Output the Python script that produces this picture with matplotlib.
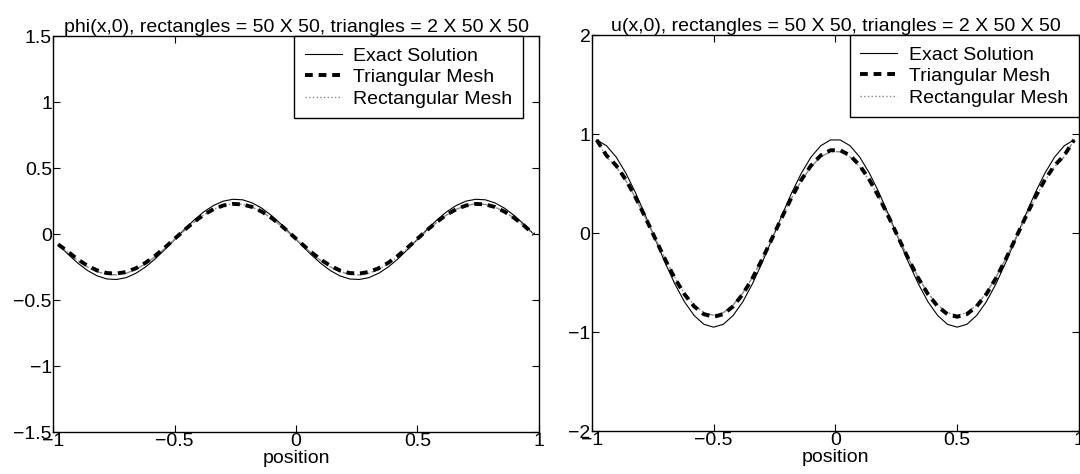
import matplotlib
matplotlib.use('Agg')
import matplotlib.pyplot as plt

plt.rcParams['font.family'] = ['Liberation Sans', 'DejaVu Sans']
plt.rcParams['font.size'] = 14

# x positions (cell centres, 50 cells)
x = [-0.98, -0.94, -0.90, -0.86, -0.82, -0.78, -0.74, -0.70, -0.66, -0.62,
     -0.58, -0.54, -0.50, -0.46, -0.42, -0.38, -0.34, -0.30, -0.26, -0.22,
     -0.18, -0.14, -0.10, -0.06, -0.02, 0.02, 0.06, 0.10, 0.14, 0.18,
     0.22, 0.26, 0.30, 0.34, 0.38, 0.42, 0.46, 0.50, 0.54, 0.58,
     0.62, 0.66, 0.70, 0.74, 0.78, 0.82, 0.86, 0.90, 0.94, 0.98]

# phi(x,0)
phi_exact = [-0.078, -0.152, -0.219, -0.275, -0.316, -0.340, -0.344, -0.330, -0.297, -0.249,
             -0.187, -0.116, -0.040, 0.036, 0.107, 0.169, 0.217, 0.250, 0.264, 0.260,
             0.236, 0.195, 0.139, 0.072, -0.002, -0.078, -0.152, -0.219, -0.275, -0.316,
             -0.340, -0.344, -0.330, -0.297, -0.249, -0.187, -0.116, -0.040, 0.036, 0.107,
             0.169, 0.217, 0.250, 0.264, 0.260, 0.236, 0.195, 0.139, 0.072, -0.002]
phi_tri = [-0.078, -0.133, -0.191, -0.239, -0.275, -0.295, -0.299, -0.287, -0.259, -0.217,
           -0.163, -0.101, -0.035, 0.031, 0.093, 0.147, 0.189, 0.217, 0.229, 0.225,
           0.205, 0.169, 0.121, 0.063, -0.002, -0.068, -0.133, -0.191, -0.239, -0.275,
           -0.295, -0.299, -0.287, -0.259, -0.217, -0.163, -0.101, -0.035, 0.031, 0.093,
           0.147, 0.189, 0.217, 0.229, 0.225, 0.205, 0.169, 0.121, 0.063, -0.002]
phi_rect = [-0.078, -0.139, -0.199, -0.248, -0.284, -0.305, -0.309, -0.297, -0.268, -0.225,
            -0.170, -0.107, -0.040, 0.027, 0.090, 0.145, 0.188, 0.217, 0.229, 0.225,
            0.204, 0.168, 0.119, 0.059, -0.006, -0.074, -0.139, -0.199, -0.248, -0.284,
            -0.305, -0.309, -0.297, -0.268, -0.225, -0.170, -0.107, -0.040, 0.027, 0.090,
            0.145, 0.188, 0.217, 0.229, 0.225, 0.204, 0.168, 0.119, 0.059, -0.002]

# u(x,0)
u_exact = [0.942, 0.884, 0.769, 0.605, 0.405, 0.178, -0.060, -0.294, -0.509, -0.693,
           -0.832, -0.921, -0.950, -0.921, -0.832, -0.693, -0.509, -0.294, -0.060, 0.178,
           0.405, 0.605, 0.769, 0.884, 0.942, 0.942, 0.884, 0.769, 0.605, 0.405,
           0.178, -0.060, -0.294, -0.509, -0.693, -0.832, -0.921, -0.950, -0.921, -0.832,
           -0.693, -0.509, -0.294, -0.060, 0.178, 0.405, 0.605, 0.769, 0.884, 0.942]
u_tri = [0.942, 0.786, 0.684, 0.538, 0.360, 0.158, -0.053, -0.261, -0.453, -0.616,
         -0.740, -0.819, -0.845, -0.819, -0.740, -0.616, -0.453, -0.261, -0.053, 0.158,
         0.360, 0.538, 0.684, 0.786, 0.838, 0.838, 0.786, 0.684, 0.538, 0.360,
         0.158, -0.053, -0.261, -0.453, -0.616, -0.740, -0.819, -0.845, -0.819, -0.740,
         -0.616, -0.453, -0.261, -0.053, 0.158, 0.360, 0.538, 0.684, 0.786, 0.942]
u_rect = [0.942, 0.772, 0.671, 0.529, 0.354, 0.155, -0.052, -0.256, -0.445, -0.605,
          -0.727, -0.804, -0.830, -0.804, -0.727, -0.605, -0.445, -0.256, -0.052, 0.155,
          0.354, 0.529, 0.671, 0.772, 0.823, 0.823, 0.772, 0.671, 0.529, 0.354,
          0.155, -0.052, -0.256, -0.445, -0.605, -0.727, -0.804, -0.830, -0.804, -0.727,
          -0.605, -0.445, -0.256, -0.052, 0.155, 0.354, 0.529, 0.671, 0.772, 0.942]

titles = ['phi(x,0), rectangles = 50 X 50, triangles = 2 X 50 X 50',
          'u(x,0), rectangles = 50 X 50, triangles = 2 X 50 X 50']
ylims = [(-1.5, 1.5), (-2, 2)]
yticks = [[-1.5, -1, -0.5, 0, 0.5, 1, 1.5], [-2, -1, 0, 1, 2]]
xticks = [-1, -0.5, 0, 0.5, 1]
legend_anchor = [(0.968, 1.0), (1.0, 1.0)]

fig = plt.figure(figsize=(10.8, 4.74), dpi=100)
ax_l = fig.add_axes([0.0494, 0.0886, 0.4495, 0.835])
ax_r = fig.add_axes([0.548, 0.0906, 0.451, 0.835])

series = [(phi_exact, phi_tri, phi_rect), (u_exact, u_tri, u_rect)]

for i, ax in enumerate([ax_l, ax_r]):
    exact, tri, rect = series[i]
    ax.plot(x, exact, color='black', lw=0.8, label='Exact Solution')
    ax.plot(x, rect, color='#888888', lw=1.0, ls='-.', label='_nolegend_')
    ax.plot(x, tri, color='black', lw=2.8, ls=(0, (2.0, 1.5)), label='Triangular Mesh')
    ax.plot([], [], color='#888888', lw=1.0, ls=':', label='Rectangular Mesh')

    ax.set_xlim(-1, 1)
    ax.set_ylim(*ylims[i])
    ax.set_xticks(xticks)
    ax.set_xticklabels(['\u22121', '\u22120.5', '0', '0.5', '1'])
    ax.set_yticks(yticks[i])
    ax.set_yticklabels([('\u2212' + ('%g' % -t)) if t < 0 else '%g' % t for t in yticks[i]])
    ax.tick_params(direction='in', top=True, right=True, length=5, width=0.8,
                   labelsize=14, pad=1)
    for sp in ax.spines.values():
        sp.set_linewidth(1.0)
    ax.set_xlabel('position', fontsize=14, labelpad=0)
    ax.set_title(titles[i], fontsize=14, pad=3)

    leg = ax.legend(loc='upper right', bbox_to_anchor=legend_anchor[i], fontsize=14,
                    fancybox=False, framealpha=1, edgecolor='black', borderaxespad=0,
                    handlelength=1.9, borderpad=0.55, labelspacing=0.2, handletextpad=0.6)
    leg.get_frame().set_linewidth(1.0)

plt.savefig('out.png', dpi=100)
